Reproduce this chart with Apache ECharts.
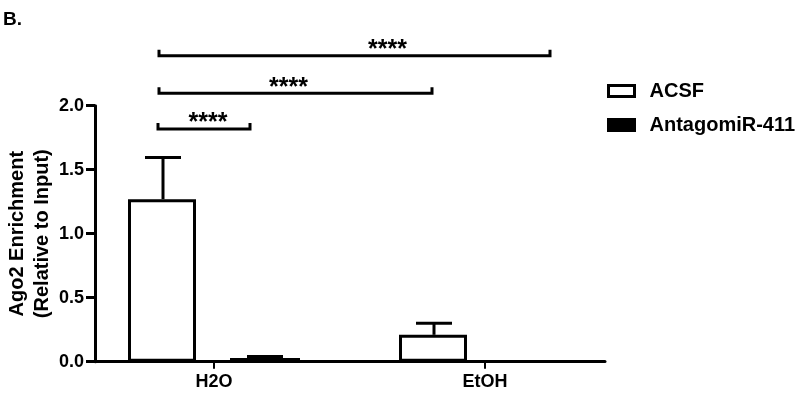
<!DOCTYPE html>
<html>
<head>
<meta charset="utf-8">
<script src="https://cdn.jsdelivr.net/npm/echarts@6/dist/echarts.min.js"></script>
<style>html,body{margin:0;padding:0;background:#fff}#c{width:800px;height:395px}</style>
</head>
<body>
<div id="c"></div>
<script>
const categories = ['H2O', 'EtOH'];
const seriesNames = ['ACSF', 'AntagomiR-411'];
const acsfMean = [1.27, 0.21];
const acsfErrTop = [1.595, 0.30];
const antaMean = [0.028, 0];
const antaErrTop = [0.04, 0];
const yTicks = [0, 0.5, 1.0, 1.5, 2.0];
const brackets = [
  { from: [0, 0], to: [1, 1], y: 2.39, label: '****' },
  { from: [0, 0], to: [1, 0], y: 2.097, label: '****' },
  { from: [0, 0], to: [0, 1], y: 1.818, label: '****' }
];

const FONT = 'Liberation Sans, Arial, sans-serif';
const BAR_W = 68, GAP = 34;
const OFF = (BAR_W + GAP) / 2;

const chart = echarts.init(document.getElementById('c'), null, { renderer: 'canvas' });

function errSeries(name, means, tops, sIdx) {
  return {
    type: 'custom',
    name: name + '_err',
    xAxisIndex: 0, yAxisIndex: 0,
    z: 5,
    silent: true,
    data: means.map((m, i) => [i, m, tops[i]]),
    renderItem: function (params, api) {
      const i = api.value(0);
      const base = api.coord([i, api.value(1)]);
      const top = api.coord([i, api.value(2)]);
      const x = base[0] + (sIdx === 0 ? -OFF : OFF);
      if (api.value(2) <= api.value(1)) return { type: 'group', children: [] };
      return {
        type: 'group',
        children: [
          { type: 'line', shape: { x1: x, y1: base[1], x2: x, y2: top[1] }, style: { stroke: '#000', lineWidth: 3 } },
          { type: 'line', shape: { x1: x - 18, y1: top[1], x2: x + 18, y2: top[1] }, style: { stroke: '#000', lineWidth: 3 } }
        ]
      };
    }
  };
}

chart.setOption({
  animation: false,
  backgroundColor: '#fff',
  grid: [
    { left: 78.5, right: 179.5, top: 105.7, bottom: 33.3, containLabel: false, outerBoundsMode: 'none' },
    { left: 95, right: 195, top: 105.7, bottom: 33.3, containLabel: false, outerBoundsMode: 'none' }
  ],
  legend: {
    orient: 'vertical',
    left: 607,
    top: 81,
    padding: 0,
    itemWidth: 26,
    itemHeight: 11,
    itemGap: 14,
    icon: 'rect',
    textStyle: { fontFamily: FONT, fontWeight: 'bold', fontSize: 20, color: '#000', padding: [0, 0, 0, 10] },
    data: [
      { name: seriesNames[0], itemStyle: { color: '#fff', borderColor: '#000', borderWidth: 3 } },
      { name: seriesNames[1], itemStyle: { color: '#000', borderColor: '#000', borderWidth: 3 } }
    ]
  },
  xAxis: [
    {
      type: 'category', gridIndex: 0, data: categories,
      axisLine: { show: false },
      axisTick: { show: true, alignWithLabel: true, length: 7, lineStyle: { color: '#000', width: 2 } },
      axisLabel: { color: '#000', fontFamily: FONT, fontWeight: 'bold', fontSize: 18, margin: 11 }
    },
    {
      type: 'value', gridIndex: 1, min: 0, max: 1,
      axisLine: { show: true, lineStyle: { color: '#000', width: 3 } },
      axisTick: { show: false }, axisLabel: { show: false }, splitLine: { show: false }
    }
  ],
  yAxis: [
    {
      type: 'value', gridIndex: 0, min: 0, max: 2, interval: 0.5,
      offset: -16.5,
      name: 'Ago2 Enrichment\n(Relative to Input)',
      nameLocation: 'middle',
      nameGap: 40,
      nameMoveOverlap: false,
      nameTextStyle: { fontFamily: FONT, fontWeight: 'bold', fontSize: 20, color: '#000', lineHeight: 25 },
      axisLine: { show: true, lineStyle: { color: '#000', width: 3 } },
      axisTick: { show: true, length: 9, lineStyle: { color: '#000', width: 3 } },
      axisLabel: { color: '#000', fontFamily: FONT, fontWeight: 'bold', fontSize: 18, margin: 11,
        formatter: v => yTicks.includes(v) ? v.toFixed(1) : '' },
      splitLine: { show: false }
    },
    { type: 'value', gridIndex: 1, show: false, min: 0, max: 1, splitLine: { show: false } }
  ],
  series: [
    {
      type: 'bar', name: seriesNames[0], xAxisIndex: 0, yAxisIndex: 0,
      data: acsfMean, barWidth: BAR_W, barGap: (GAP / BAR_W * 100) + '%',
      itemStyle: { color: '#fff', borderColor: '#000', borderWidth: 3 }, z: 3
    },
    {
      type: 'bar', name: seriesNames[1], xAxisIndex: 0, yAxisIndex: 0,
      data: antaMean, barWidth: BAR_W + 2,
      itemStyle: { color: '#000', borderColor: '#000', borderWidth: 0 }, z: 3
    },
    errSeries(seriesNames[0], acsfMean, acsfErrTop, 0),
    errSeries(seriesNames[1], antaMean, antaErrTop, 1)
  ]
});

// Significance brackets and panel label
const x1Adjust = [-4, -4, -5];
const x2Adjust = [14, -2, -15];
const starXShift = [33, -7, 4];
const graphics = [
  { type: 'text', left: 3, top: 10, style: { text: 'B.', fontFamily: FONT, fontWeight: 'bold', fontSize: 19, fill: '#000' } }
];
brackets.forEach((b, k) => {
  const p1 = chart.convertToPixel({ xAxisIndex: 0, yAxisIndex: 0 }, [b.from[0], b.y]);
  const p2 = chart.convertToPixel({ xAxisIndex: 0, yAxisIndex: 0 }, [b.to[0], b.y]);
  const x1 = p1[0] + (b.from[1] === 0 ? -OFF : OFF) + x1Adjust[k];
  const x2 = p2[0] + (b.to[1] === 0 ? -OFF : OFF) + x2Adjust[k];
  const y = p1[1];
  graphics.push({
    type: 'polyline', silent: true,
    shape: { points: [[x1, y - 6], [x1, y], [x2, y], [x2, y - 6]] },
    style: { stroke: '#000', lineWidth: 3, fill: null }
  });
  graphics.push({
    type: 'text', silent: true,
    x: (x1 + x2) / 2 + starXShift[k], y: y + 7,
    style: { text: b.label, fontFamily: FONT, fontWeight: 'bold', fontSize: 25, fill: '#000', align: 'center', verticalAlign: 'bottom' }
  });
});
chart.setOption({ graphic: graphics });
</script>
</body>
</html>
